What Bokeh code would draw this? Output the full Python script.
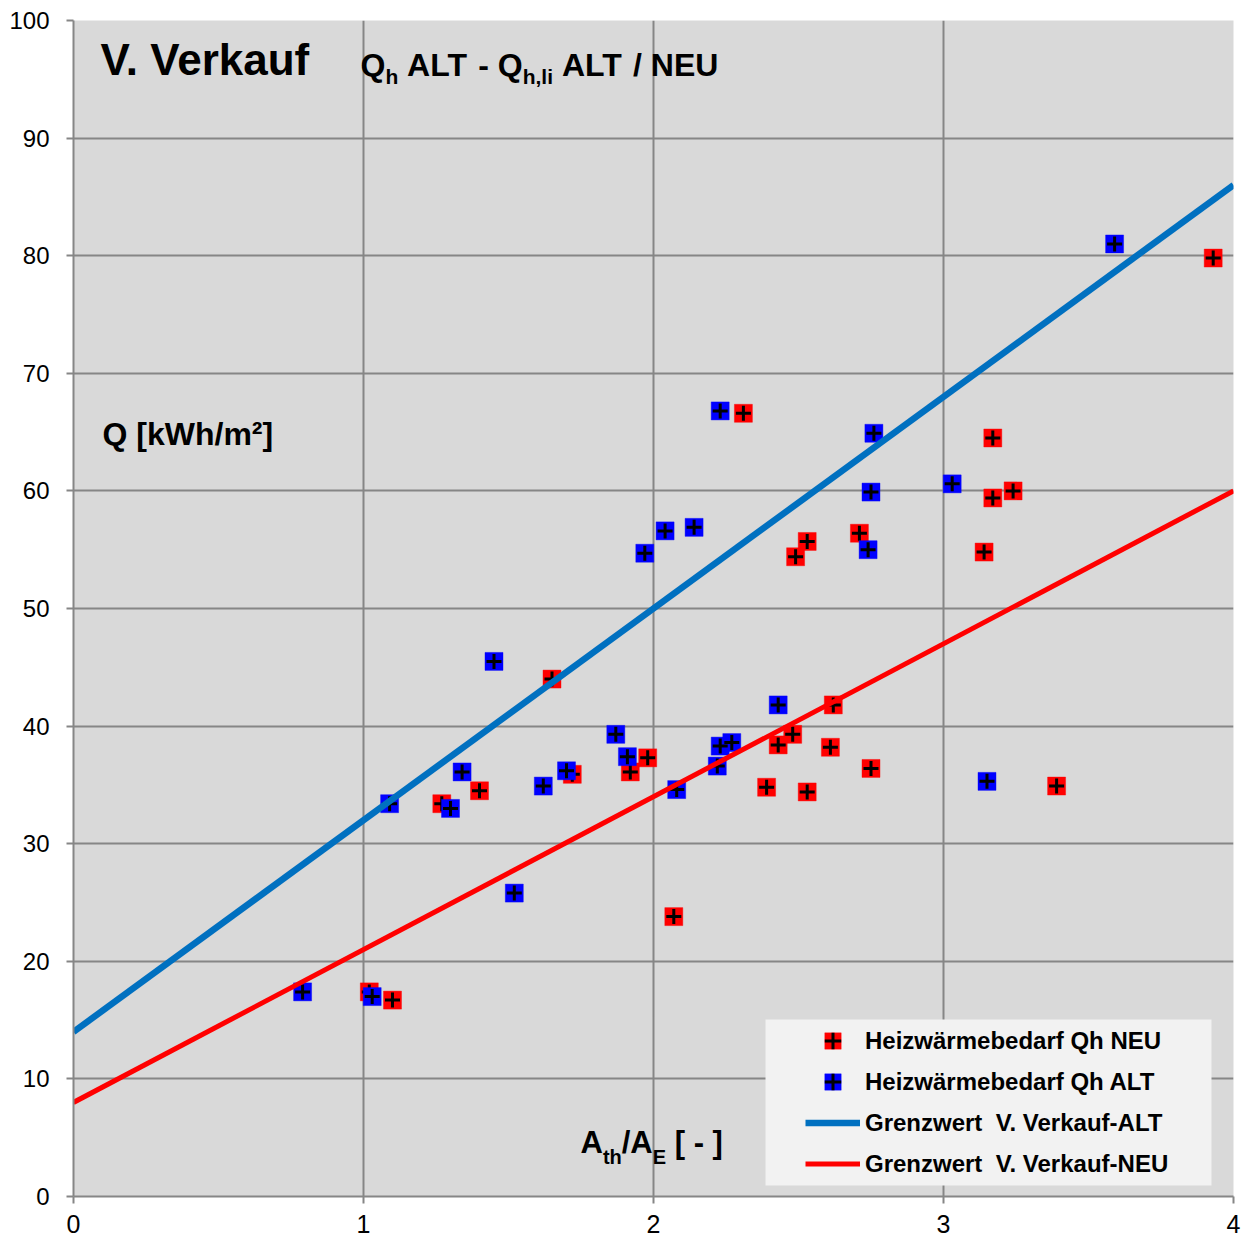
from bokeh.plotting import figure
from bokeh.models import Range1d, FixedTicker, Label, Legend, LegendItem, BoxAnnotation
from bokeh.embed import file_html
from bokeh.resources import INLINE

# ---------------- data ----------------
alt_x = [0.79, 1.03, 1.09, 1.30, 1.34, 1.45, 1.52, 1.62, 1.70, 1.87, 1.91, 1.97, 2.04,
         2.08, 2.14, 2.22, 2.23, 2.27, 2.23, 2.43, 2.74, 2.75, 2.76, 3.03, 3.15, 3.59]
alt_y = [17.4, 17.0, 33.4, 33.0, 36.1, 45.5, 25.8, 34.9, 36.2, 39.3, 37.4, 54.7, 56.6,
         34.6, 56.9, 36.6, 38.3, 38.6, 66.8, 41.8, 55.0, 59.9, 64.9, 60.6, 35.3, 81.0]
neu_x = [1.02, 1.10, 1.27, 1.40, 1.65, 1.72, 1.92, 1.98, 2.07, 2.31, 2.39, 2.43, 2.48,
         2.49, 2.53, 2.53, 2.61, 2.62, 2.71, 2.75, 3.14, 3.17, 3.17, 3.24, 3.39, 3.93]
neu_y = [17.4, 16.7, 33.4, 34.5, 44.0, 35.9, 36.1, 37.3, 23.8, 66.6, 34.8, 38.4, 39.3,
         54.4, 34.4, 55.7, 38.2, 41.8, 56.4, 36.4, 54.8, 64.5, 59.4, 60.0, 34.9, 79.8]
gw_x = [0, 4]
gw_alt = [14, 86]
gw_neu = [8, 60]
x_ticks = [0, 1, 2, 3, 4]
y_ticks = [0, 10, 20, 30, 40, 50, 60, 70, 80, 90, 100]
legend_labels = ["Heizwärmebedarf Qh NEU", "Heizwärmebedarf Qh ALT",
                 "Grenzwert  V. Verkauf-ALT", "Grenzwert  V. Verkauf-NEU"]

FONT = "Liberation Sans"
GRID = "#868686"

p = figure(width=1248, height=1242, x_range=Range1d(0, 4), y_range=Range1d(0, 100),
           output_backend="svg", toolbar_location=None,
           min_border_left=73, min_border_right=15, min_border_top=20, min_border_bottom=46,
           background_fill_color="#d9d9d9", border_fill_color="white", outline_line_color=None)

for ax, standoff, fs in ((p.xaxis[0], 11, "25px"), (p.yaxis[0], 17, "24px")):
    ax.axis_line_color = GRID
    ax.axis_line_width = 2
    ax.major_tick_line_color = GRID
    ax.major_tick_line_width = 2
    ax.major_tick_out = 7
    ax.major_tick_in = 0
    ax.minor_tick_line_color = None
    ax.major_label_text_font = FONT
    ax.major_label_text_font_size = fs
    ax.major_label_text_color = "black"
    ax.major_label_standoff = standoff
p.xaxis.ticker = FixedTicker(ticks=x_ticks)
p.yaxis.ticker = FixedTicker(ticks=y_ticks)
p.xgrid.ticker = FixedTicker(ticks=x_ticks)
p.ygrid.ticker = FixedTicker(ticks=y_ticks)
p.grid.grid_line_color = GRID
p.grid.grid_line_width = 2

# markers
r_sq = p.scatter(neu_x, neu_y, marker="square", size=18, fill_color="#ff0000",
                 line_color="#ff0000", line_alpha=0.4, line_width=1)
r_cr = p.scatter(neu_x, neu_y, marker="cross", size=15, line_color="black", line_width=3)
b_sq = p.scatter(alt_x, alt_y, marker="square", size=18, fill_color="#0000ff",
                 line_color="#0000ff", line_alpha=0.4, line_width=1)
b_cr = p.scatter(alt_x, alt_y, marker="cross", size=15, line_color="black", line_width=3)

# limit lines
l_alt = p.line(gw_x, gw_alt, line_color="#0070c0", line_width=6.5)
l_neu = p.line(gw_x, gw_neu, line_color="#ff0000", line_width=5)

# pixel -> data helpers (frame: x 73..1233, y 1196..20)
def dx(px):
    return (px - 73) / 290.0

def dy(py):
    return (1196 - py) / 11.76

W = {' ': 278, 'A': 722, 'L': 611, 'T': 611, '-': 333, '/': 278, 'N': 722, 'E': 667,
     'U': 722, 'Q': 778, 'h': 611, ',': 278, 'l': 278, 'i': 278, 't': 333, '[': 333, ']': 333}

def label(px, py, txt, size):
    # baseline correction (rendered baseline sits ~0.4 em lower than requested)
    p.add_layout(Label(x=dx(px), y=dy(py - 0.4 * size), text=txt, text_font=FONT,
                       text_font_style="bold", text_font_size=f"{size}px",
                       text_color="black", text_baseline="alphabetic", text_align="left"))

def seg_text(px, py, segs):
    x = px
    for txt, size, drop in segs:
        for i, word in enumerate(txt.split(" ")):
            if i > 0:
                x += W[' '] / 1000.0 * size
            if word:
                label(x, py + drop, word, size)
                x += sum(W.get(c, 556) for c in word) / 1000.0 * size

# legend background box
p.add_layout(BoxAnnotation(left=dx(765), right=dx(1211), top=dy(1019), bottom=dy(1185),
                           fill_color="#f2f2f2", fill_alpha=1, line_color=None))

# titles
label(100, 77, "V. Verkauf", 44)
seg_text(360, 77, [("Q", 32, 0), ("h", 21, 7), (" ALT - Q", 32, 0), ("h,li", 21, 7),
                   (" ALT / NEU", 32, 0)])
label(102, 446, "Q [kWh/m²]", 32)
seg_text(580, 1154, [("A", 31, 0), ("th", 20, 10), ("/A", 31, 0), ("E", 20, 10),
                     (" [ - ]", 31, 0)])

legend = Legend(items=[LegendItem(label=legend_labels[0], renderers=[r_sq, r_cr]),
                       LegendItem(label=legend_labels[1], renderers=[b_sq, b_cr]),
                       LegendItem(label=legend_labels[2], renderers=[l_alt]),
                       LegendItem(label=legend_labels[3], renderers=[l_neu])],
                location=(732, 12), padding=0, margin=0, spacing=0,
                glyph_width=55, glyph_height=41, label_height=41, label_standoff=5,
                label_text_font=FONT, label_text_font_style="bold",
                label_text_font_size="24px", label_text_color="black",
                background_fill_alpha=0, border_line_color=None)
p.add_layout(legend)

open("out.html", "w").write(file_html(p, INLINE))
